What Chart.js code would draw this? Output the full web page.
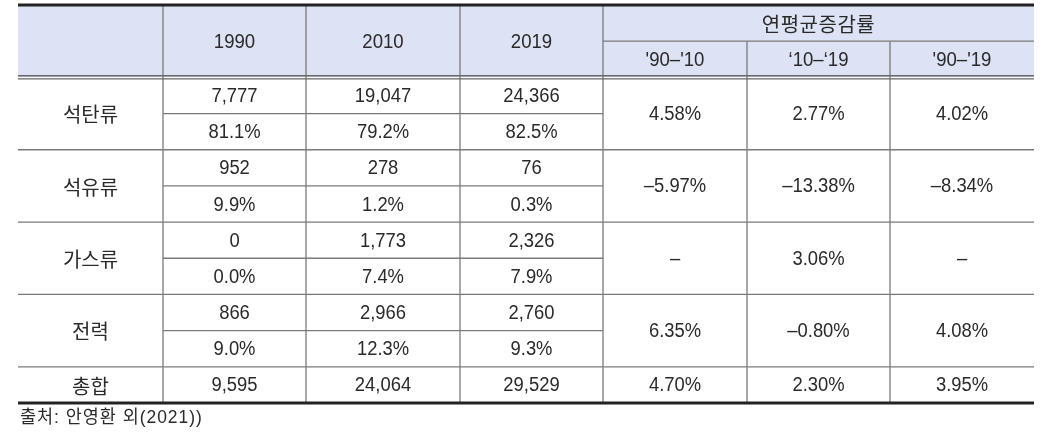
<!DOCTYPE html>
<html><head><meta charset="utf-8">
<script src="https://cdn.jsdelivr.net/npm/chart.js@4/dist/chart.umd.min.js"></script>
<style>html,body{margin:0;padding:0;background:#fff;}canvas{display:block;}</style>
</head><body>
<canvas id="c" width="1045" height="441"></canvas>
<script>
// ---- data ----
const categories = ['석탄류', '석유류', '가스류', '전력'];
const totalLabel = '총합';
const years = ['1990', '2010', '2019'];
const growthTitle = '연평균증감률';
const periods = ["'90–'10", "‘10–‘19", "'90–'19"];
const v1990 = [7777, 952, 0, 866];
const v2010 = [19047, 278, 1773, 2966];
const v2019 = [24366, 76, 2326, 2760];
const s1990 = [81.1, 9.9, 0.0, 9.0];
const s2010 = [79.2, 1.2, 7.4, 12.3];
const s2019 = [82.5, 0.3, 7.9, 9.3];
const g9010 = [4.58, -5.97, null, 6.35];
const g1019 = [2.77, -13.38, 3.06, -0.80];
const g9019 = [4.02, -8.34, null, 4.08];
const totals = [9595, 24064, 29529];
const totalGrowth = [4.70, 2.30, 3.95];
const sourceNote = '출처: 안영환 외(2021))';

// ---- layout (not data) ----
const colEdges = [0, 145, 288, 442, 585, 729, 872, 1016];
const nRows = 11;
const FONT = '"Liberation Sans", "Noto Sans CJK KR", sans-serif';
const KFONT = '"Noto Sans CJK KR", sans-serif';
const TEXT = '#2a2a2a';

const cx = c => (colEdges[c] + colEdges[c + 1]) / 2;
const fmtInt = v => v.toLocaleString('en-US');
const fmtShare = v => v.toFixed(1) + '%';
const fmtGrowth = v => v === null ? '–' : (v.toFixed(2) + '%').replace('-', '–');

const valueCols = [v1990, v2010, v2019];
const shareCols = [s1990, s2010, s2019];
const growthCols = [g9010, g1019, g9019];

const yearPts = years.map((y, i) => ({x: cx(i + 1), y: 1, t: y}));
const titlePts = [{x: (colEdges[4] + colEdges[7]) / 2, y: 0.5, t: growthTitle}];
const periodPts = periods.map((p, i) => ({x: cx(i + 4), y: 1.5, t: p}));

const labelPts = categories.map((c, i) => ({x: cx(0), y: 2 + 2 * i + 1, t: c}));
labelPts.push({x: cx(0), y: 10.5, t: totalLabel});

const valuePts = [];
valueCols.forEach((arr, k) => arr.forEach((v, i) => valuePts.push({x: cx(k + 1), y: 2 + 2 * i + 0.5, t: fmtInt(v)})));
totals.forEach((v, k) => valuePts.push({x: cx(k + 1), y: 10.5, t: fmtInt(v)}));

const sharePts = [];
shareCols.forEach((arr, k) => arr.forEach((v, i) => sharePts.push({x: cx(k + 1), y: 2 + 2 * i + 1.5, t: fmtShare(v)})));

const growthPts = [];
growthCols.forEach((arr, k) => arr.forEach((v, i) => growthPts.push({x: cx(k + 4), y: 2 + 2 * i + 1, t: fmtGrowth(v)})));
totalGrowth.forEach((v, k) => growthPts.push({x: cx(k + 4), y: 10.5, t: fmtGrowth(v)}));

const tablePlugin = {
  id: 'table',
  beforeDatasetsDraw(chart) {
    const {ctx, scales: {x, y}} = chart;
    const px = v => x.getPixelForValue(v), py = v => y.getPixelForValue(v);
    ctx.save();
    ctx.fillStyle = '#dde3f4';
    ctx.fillRect(px(0), py(0), px(1016) - px(0), py(2) - py(0));
    const line = (x1, y1, x2, y2, w, col) => {
      ctx.beginPath(); ctx.lineWidth = w; ctx.strokeStyle = col;
      ctx.moveTo(x1, y1); ctx.lineTo(x2, y2); ctx.stroke();
    };
    const G = '#7a7a7a';
    for (let c = 1; c <= 6; c++) {
      const top = c >= 5 ? py(1) : py(0);
      line(px(colEdges[c]), top, px(colEdges[c]), py(nRows), 1.3, G);
    }
    line(px(colEdges[4]), py(1), px(colEdges[7]), py(1), 1.3, G);
    line(px(0), py(2) - 1.6, px(1016), py(2) - 1.6, 1.3, '#666');
    line(px(0), py(2) + 1.6, px(1016), py(2) + 1.6, 1.3, '#666');
    for (let r = 4; r <= 10; r += 2) line(px(0), py(r), px(1016), py(r), 1.3, G);
    for (let r = 3; r <= 9; r += 2) line(px(colEdges[1]), py(r), px(colEdges[4]), py(r), 1.3, G);
    line(px(0), py(0), px(1016), py(0), 3, '#222');
    line(px(0), py(nRows), px(1016), py(nRows), 3, '#222');
    ctx.restore();
  },
  afterDatasetsDraw(chart) {
    const {ctx, scales: {x, y}} = chart;
    ctx.save();
    ctx.textAlign = 'center';
    ctx.textBaseline = 'middle';
    ctx.fillStyle = TEXT;
    chart.data.datasets.forEach((ds, di) => {
      const meta = chart.getDatasetMeta(di);
      ctx.font = ds.textFont;
      ctx.letterSpacing = ds.spacing;
      meta.data.forEach((el, i) => {
        ctx.save();
        ctx.translate(el.x, el.y + 1);
        ctx.scale(ds.sx, 1);
        ctx.fillText(ds.data[i].t, 0, 0);
        ctx.restore();
      });
    });
    // source note below the table
    ctx.textAlign = 'left';
    ctx.font = '18px ' + FONT;
    ctx.letterSpacing = '1px';
    ctx.save();
    ctx.translate(x.getPixelForValue(0) + 2, y.getPixelForValue(nRows) + 15);
    ctx.scale(0.97, 1);
    ctx.fillText(sourceNote, 0, 0);
    ctx.restore();
    ctx.restore();
  }
};

const mk = (pts, textFont, spacing, sx) => ({data: pts, pointRadius: 0, pointHoverRadius: 0, showLine: false, textFont, spacing, sx});
const NUMF = '20px ' + FONT;

new Chart(document.getElementById('c'), {
  type: 'scatter',
  data: {
    datasets: [
      mk(yearPts, NUMF, '0px', 0.93),
      mk(titlePts, '20px ' + KFONT, '0.5px', 1),
      mk(periodPts, NUMF, '0px', 0.93),
      mk(labelPts, '20px ' + KFONT, '0px', 1),
      mk(valuePts, NUMF, '0px', 0.92),
      mk(sharePts, NUMF, '0px', 0.92),
      mk(growthPts, NUMF, '0px', 0.92)
    ]
  },
  options: {
    responsive: false,
    animation: false,
    events: [],
    layout: {padding: {left: 18, right: 11, top: 5, bottom: 38}},
    scales: {
      x: {type: 'linear', min: 0, max: 1016, display: false},
      y: {type: 'linear', min: 0, max: nRows, reverse: true, display: false}
    },
    plugins: {
      legend: {display: false},
      tooltip: {enabled: false}
    }
  },
  plugins: [tablePlugin]
});
</script>
</body></html>
